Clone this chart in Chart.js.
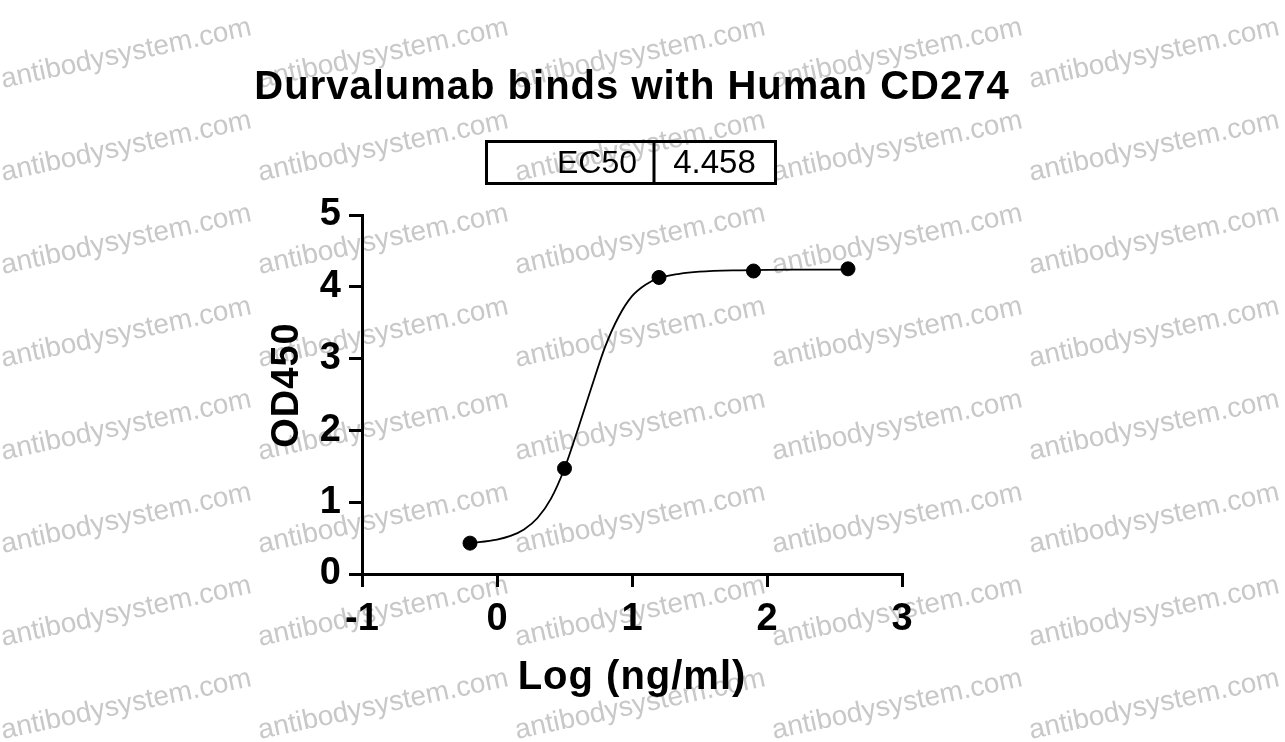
<!DOCTYPE html>
<html lang="en">
<head>
    <meta charset="UTF-8">
    <title>Durvalumab binds with Human CD274</title>
    <script src="https://cdn.jsdelivr.net/npm/chart.js"></script>
    <style>
        body { margin: 0; background: #fff; }
    </style>
</head>
<body>
    <canvas id="odChart" width="1285" height="742"></canvas>

    <script>
        // measured points: log10 concentration vs OD450
        const logConc = [-0.2, 0.5, 1.2, 1.9, 2.6];
        const od450 = [0.43, 1.47, 4.13, 4.22, 4.25];

        // fitted curve
        const curveX = [-0.2, 0, 0.1, 0.2, 0.3, 0.4, 0.5, 0.6, 0.7, 0.8, 0.9, 1.0, 1.1, 1.2, 1.35, 1.5, 1.8, 2.2, 2.6];
        const curveY = [0.43, 0.48, 0.53, 0.62, 0.78, 1.05, 1.47, 2.02, 2.6, 3.16, 3.58, 3.87, 4.03, 4.12, 4.18, 4.21, 4.23, 4.24, 4.24];

        const chartTitle = 'Durvalumab binds with Human CD274';
        const ec50Label = 'EC50';
        const ec50Value = '4.458';
        const xTitle = 'Log (ng/ml)';
        const yTitle = 'OD450';
        const watermark = 'antibodysystem.com';

        const FONT = 'Arial, "Liberation Sans", sans-serif';

        // grey tiled watermark behind everything
        const watermarkPlugin = {
            id: 'watermark',
            beforeDraw(chart) {
                const ctx = chart.ctx;
                ctx.save();
                ctx.fillStyle = '#fff';
                ctx.fillRect(0, 0, chart.width, chart.height);
                ctx.fillStyle = 'rgb(200,200,200)';
                ctx.font = '28px ' + FONT;
                ctx.textAlign = 'left';
                ctx.textBaseline = 'alphabetic';
                for (let i = 0; i < 5; i++) {
                    for (let j = 0; j < 8; j++) {
                        ctx.save();
                        ctx.translate(3 + 257 * i, 88 + 93 * j);
                        ctx.rotate(-12 * Math.PI / 180);
                        ctx.fillText(watermark, 0, 0);
                        ctx.restore();
                    }
                }
                ctx.restore();
            }
        };

        // title, EC50 box and axis titles
        const labelsPlugin = {
            id: 'labels',
            afterDraw(chart) {
                const ctx = chart.ctx;
                ctx.save();
                ctx.fillStyle = '#000';
                ctx.strokeStyle = '#000';

                ctx.letterSpacing = '1px';
                ctx.font = 'bold 40px ' + FONT;
                ctx.textAlign = 'center';
                ctx.textBaseline = 'alphabetic';
                ctx.fillText(chartTitle, 632, 99);

                ctx.fillText(xTitle, 632, 689);

                ctx.save();
                ctx.font = 'bold 38px ' + FONT;
                ctx.translate(298, 385);
                ctx.rotate(-Math.PI / 2);
                ctx.fillText(yTitle, 0, 0);
                ctx.restore();

                ctx.letterSpacing = '0px';
                ctx.lineWidth = 3;
                ctx.strokeRect(486.5, 141.5, 289, 42);
                ctx.beginPath();
                ctx.moveTo(654, 141.5);
                ctx.lineTo(654, 183.5);
                ctx.stroke();

                ctx.font = '32px ' + FONT;
                ctx.textAlign = 'right';
                ctx.fillText(ec50Label, 637, 173);
                ctx.font = '33px ' + FONT;
                ctx.textAlign = 'center';
                ctx.fillText(ec50Value, 714.5, 173);
                ctx.restore();
            }
        };

        const axisStyle = {
            border: { display: true, color: '#000', width: 3 },
            grid: {
                display: true,
                drawOnChartArea: false,
                drawTicks: true,
                tickLength: 13,
                tickWidth: 3,
                tickColor: '#000',
                lineWidth: 3,
                color: '#000'
            }
        };

        const ctx = document.getElementById('odChart').getContext('2d');
        const odChart = new Chart(ctx, {
            type: 'scatter',
            data: {
                datasets: [{
                    label: 'fit',
                    data: curveX.map((x, i) => ({ x: x, y: curveY[i] })),
                    showLine: true,
                    borderColor: '#000',
                    borderWidth: 1.8,
                    pointRadius: 0,
                    cubicInterpolationMode: 'monotone',
                    order: 2
                }, {
                    label: 'OD450',
                    data: logConc.map((x, i) => ({ x: x, y: od450[i] })),
                    backgroundColor: '#000',
                    borderColor: '#000',
                    pointRadius: 7,
                    order: 1
                }]
            },
            options: {
                responsive: false,
                animation: false,
                layout: { padding: { left: 0, right: 383, top: 215, bottom: 0 } },
                plugins: {
                    legend: { display: false },
                    tooltip: { enabled: false }
                },
                scales: {
                    x: {
                        type: 'linear',
                        min: -1,
                        max: 3,
                        ...axisStyle,
                        ticks: {
                            stepSize: 1,
                            color: '#000',
                            padding: 10,
                            maxRotation: 0,
                            font: { family: FONT, size: 38, weight: 'bold' }
                        },
                        afterFit(scale) { scale.height = 168; }
                    },
                    y: {
                        type: 'linear',
                        min: 0,
                        max: 5,
                        ...axisStyle,
                        ticks: {
                            stepSize: 1,
                            color: '#000',
                            padding: 8,
                            font: { family: FONT, size: 38, weight: 'bold' }
                        },
                        afterFit(scale) { scale.width = 362; }
                    }
                }
            },
            plugins: [watermarkPlugin, labelsPlugin]
        });
    </script>
</body>
</html>
